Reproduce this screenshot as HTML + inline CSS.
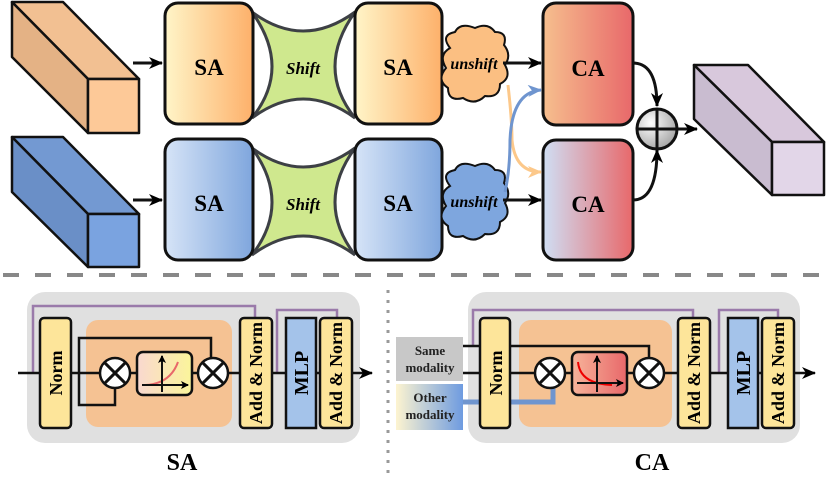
<!DOCTYPE html>
<html><head><meta charset="utf-8"><style>html,body{margin:0;padding:0;background:#fff}svg{display:block}text{font-family:"Liberation Serif",serif;font-weight:bold}</style></head><body>
<svg width="830" height="480" viewBox="0 0 830 480" xmlns="http://www.w3.org/2000/svg">
<defs>
<linearGradient id="go" x1="0" x2="1"><stop offset="0" stop-color="#fff5c8"/><stop offset="1" stop-color="#fdb06a"/></linearGradient>
<linearGradient id="gb" x1="0" x2="1"><stop offset="0" stop-color="#d6e4f7"/><stop offset="1" stop-color="#7fa6dd"/></linearGradient>
<linearGradient id="gca1" x1="0" x2="1"><stop offset="0" stop-color="#f6bf8e"/><stop offset="1" stop-color="#e8686a"/></linearGradient>
<linearGradient id="gca2" x1="0" x2="1"><stop offset="0" stop-color="#cfdff5"/><stop offset="1" stop-color="#e8686a"/></linearGradient>
<linearGradient id="gsa" x1="0" x2="1"><stop offset="0" stop-color="#f9d8d0"/><stop offset="1" stop-color="#fbf59a"/></linearGradient>
<linearGradient id="gcab" x1="0" x2="1"><stop offset="0" stop-color="#f7b49a"/><stop offset="1" stop-color="#e8686a"/></linearGradient>
<linearGradient id="gom" x1="0" x2="1"><stop offset="0" stop-color="#fdf4d0"/><stop offset="1" stop-color="#6e9be0"/></linearGradient>
<radialGradient id="gc" cx="0.35" cy="0.35" r="0.8"><stop offset="0" stop-color="#fff"/><stop offset="1" stop-color="#999"/></radialGradient>
<marker id="ah" markerWidth="8" markerHeight="8" refX="7" refY="4" orient="auto" markerUnits="userSpaceOnUse"><path d="M0,0 L8,4 L0,8 L2,4z" fill="#000"/></marker>
<marker id="ahb" markerWidth="14" markerHeight="12" refX="13" refY="6" orient="auto" markerUnits="userSpaceOnUse"><path d="M0,0 L14,6 L0,12 L4,6z" fill="#000"/></marker>
<marker id="aho" markerWidth="14" markerHeight="12" refX="13" refY="6" orient="auto" markerUnits="userSpaceOnUse"><path d="M0,0 L14,6 L0,12 L4,6z" fill="#fcc88a"/></marker>
<marker id="ahbl" markerWidth="14" markerHeight="12" refX="13" refY="6" orient="auto" markerUnits="userSpaceOnUse"><path d="M0,0 L14,6 L0,12 L4,6z" fill="#6f95cf"/></marker>
</defs>
<g stroke="#111" stroke-width="2.5" stroke-linejoin="round">
<polygon points="12,2 63,2 139,79 88,79" fill="#f2c092"/>
<polygon points="12,2 88,79 88,133 12,57" fill="#e4b285"/>
<rect x="88" y="79" width="51" height="54" fill="#fdc998"/>
<polygon points="12,137 63,137 139,214 88,214" fill="#7399d2"/>
<polygon points="12,137 88,214 88,267 12,192" fill="#6a8fc7"/>
<rect x="88" y="214" width="51" height="53" fill="#7aa3e0"/>
<polygon points="694,65 748,65 824,142 772,142" fill="#d8c8dc"/>
<polygon points="694,65 772,142 772,195 694,119" fill="#c9bcd0"/>
<rect x="772" y="142" width="52" height="53" fill="#e2d6e8"/>
</g>
<g fill="#cfe88e" stroke="#3d4045" stroke-width="3">
<path d="M252,12 Q303,50 355,12 Q315,68 355,118 Q303,80 252,118 Q292,68 252,12z"/>
<path d="M252,148 Q303,186 355,148 Q315,203 355,255 Q303,217 252,255 Q292,203 252,148z"/>
</g>
<g stroke="#111" stroke-width="3">
<rect x="165" y="3" width="88" height="121" rx="13" fill="url(#go)"/>
<rect x="355" y="3" width="87" height="121" rx="13" fill="url(#go)"/>
<rect x="165" y="139" width="88" height="121" rx="13" fill="url(#gb)"/>
<rect x="355" y="139" width="87" height="121" rx="13" fill="url(#gb)"/>
<rect x="543" y="3" width="90" height="122" rx="13" fill="url(#gca1)"/>
<rect x="543" y="140" width="90" height="120" rx="13" fill="url(#gca2)"/>
</g>
<g font-size="23" text-anchor="middle">
<text x="209" y="75">SA</text><text x="398" y="75">SA</text>
<text x="209" y="211">SA</text><text x="398" y="211">SA</text>
<text x="588" y="76">CA</text><text x="588" y="212">CA</text>
</g>
<g font-size="17" font-style="italic" text-anchor="middle">
<text x="303" y="74">Shift</text><text x="303" y="210">Shift</text>
</g>
<g stroke="#111" stroke-width="2">
<path d="M450,48 Q440,35 455,32 Q460,22 475,28 Q488,22 495,32 Q508,32 504,45 Q512,55 505,65 Q512,78 500,84 Q500,98 485,96 Q475,106 463,98 Q448,102 448,88 Q436,80 446,68 Q438,55 450,48z" fill="#fbbf82"/>
<path d="M450,186 Q440,173 455,170 Q460,160 475,166 Q488,160 495,170 Q508,170 504,183 Q512,193 505,203 Q512,216 500,222 Q500,236 485,234 Q475,244 463,236 Q448,240 448,226 Q436,218 446,206 Q438,193 450,186z" fill="#7ea6de"/>
</g>
<g font-size="16" font-style="italic" text-anchor="middle">
<text x="474" y="69">unshift</text><text x="474" y="207">unshift</text>
</g>
<g stroke="#111" stroke-width="3" fill="none">
<line x1="133" y1="63" x2="162" y2="63" marker-end="url(#ahb)"/>
<line x1="133" y1="200" x2="162" y2="200" marker-end="url(#ahb)"/>
<line x1="503" y1="63" x2="541" y2="63" marker-end="url(#ahb)"/>
<line x1="503" y1="200" x2="541" y2="200" marker-end="url(#ahb)"/>
<path d="M633,63 Q657,63 657,106" marker-end="url(#ahb)"/>
<path d="M633,200 Q657,200 657,150" marker-end="url(#ahb)"/>
<line x1="678" y1="129" x2="697" y2="129" marker-end="url(#ahb)"/>
</g>
<path d="M508,85 Q512,120 512,140 Q515,172 541,172" stroke="#fcc88a" stroke-width="3" fill="none" marker-end="url(#aho)"/>
<path d="M505,192 Q510,170 510,140 Q512,92 541,90" stroke="#6f95cf" stroke-width="3" fill="none" marker-end="url(#ahbl)"/>
<circle cx="657" cy="129" r="20" fill="url(#gc)" stroke="#111" stroke-width="3"/>
<path d="M637,129H677M657,109V149" stroke="#111" stroke-width="3"/>
<line x1="3" y1="275" x2="830" y2="275" stroke="#888" stroke-width="4" stroke-dasharray="16,16"/>
<line x1="388" y1="290" x2="388" y2="478" stroke="#999" stroke-width="3" stroke-dasharray="3,7"/>
<rect x="27" y="292" width="333" height="151" rx="18" fill="#e0e0e0"/>
<rect x="86" y="320" width="146" height="107" rx="12" fill="#f5c293"/>
<g fill="none" stroke="#9a7aaa" stroke-width="2.5">
<path d="M33,373V306H255V318"/><path d="M277,373V310H337V318"/>
</g>
<g fill="none" stroke="#111" stroke-width="2.5">
<line x1="18" y1="373" x2="372" y2="373" marker-end="url(#ahb)"/>
<path d="M79,373V338H211V358"/><path d="M79,373V405H115V388"/>
</g>
<g stroke="#111" stroke-width="2.5">
<rect x="40" y="318" width="31" height="110" rx="4" fill="#fde59a"/>
<rect x="240" y="318" width="32" height="110" rx="4" fill="#fde59a"/>
<rect x="286" y="318" width="30" height="110" fill="#a4c3ea"/>
<rect x="320" y="318" width="32" height="110" rx="4" fill="#fde59a"/>
<rect x="137" y="352" width="55" height="43" rx="6" fill="url(#gsa)"/>
<circle cx="115" cy="373" r="15" fill="#fff"/><circle cx="213" cy="373" r="15" fill="#fff"/>
<path d="M104.4,362.4l21.2,21.2M125.6,362.4l-21.2,21.2M202.4,362.4l21.2,21.2M223.6,362.4l-21.2,21.2" stroke-width="3"/>
</g>
<path d="M145,385Q170,384 178,362" stroke="#e8686a" stroke-width="2" fill="none"/>
<g stroke="#111" stroke-width="2" fill="none"><line x1="162" y1="392" x2="162" y2="356" marker-end="url(#ah)"/><line x1="142" y1="385" x2="188" y2="385" marker-end="url(#ah)"/></g>
<rect x="468" y="292" width="332" height="151" rx="18" fill="#e0e0e0"/>
<rect x="519" y="320" width="153" height="107" rx="12" fill="#f5c293"/>
<rect x="396" y="337" width="67" height="44" fill="#c8c8c8"/>
<rect x="396" y="384" width="67" height="46" fill="url(#gom)"/>
<g fill="none" stroke="#9a7aaa" stroke-width="2.5">
<path d="M473,346V310H693V318"/><path d="M719,373V310H778V318"/>
</g>
<path d="M463,402H553V388" stroke="#6f95cf" stroke-width="5" fill="none"/>
<g fill="none" stroke="#111" stroke-width="2.5">
<line x1="463" y1="373" x2="815" y2="373" marker-end="url(#ahb)"/>
<path d="M463,346H649V358"/>
</g>
<g stroke="#111" stroke-width="2.5">
<rect x="480" y="318" width="30" height="110" rx="4" fill="#fde59a"/>
<rect x="678" y="318" width="32" height="110" rx="4" fill="#fde59a"/>
<rect x="728" y="318" width="30" height="110" fill="#a4c3ea"/>
<rect x="762" y="318" width="32" height="110" rx="4" fill="#fde59a"/>
<rect x="572" y="352" width="55" height="43" rx="6" fill="url(#gcab)"/>
<circle cx="550" cy="373" r="15" fill="#fff"/><circle cx="649" cy="373" r="15" fill="#fff"/>
<path d="M539.4,362.4l21.2,21.2M560.6,362.4l-21.2,21.2M638.4,362.4l21.2,21.2M659.6,362.4l-21.2,21.2" stroke-width="3"/>
</g>
<path d="M578,362Q580,384 612,385" stroke="#e00" stroke-width="2" fill="none"/>
<g stroke="#111" stroke-width="2" fill="none"><line x1="597" y1="392" x2="597" y2="356" marker-end="url(#ah)"/><line x1="577" y1="383" x2="623" y2="383" marker-end="url(#ah)"/></g>
<g font-size="18">
<text transform="translate(62,373) rotate(-90)" text-anchor="middle">Norm</text>
<text transform="translate(262,373) rotate(-90)" text-anchor="middle">Add &amp; Norm</text>
<text transform="translate(308,373) rotate(-90)" text-anchor="middle" font-size="20">MLP</text>
<text transform="translate(342,373) rotate(-90)" text-anchor="middle">Add &amp; Norm</text>
<text transform="translate(502,373) rotate(-90)" text-anchor="middle">Norm</text>
<text transform="translate(700,373) rotate(-90)" text-anchor="middle">Add &amp; Norm</text>
<text transform="translate(750,373) rotate(-90)" text-anchor="middle" font-size="20">MLP</text>
<text transform="translate(784,373) rotate(-90)" text-anchor="middle">Add &amp; Norm</text>
</g>
<g font-size="13" text-anchor="middle" fill="#222">
<text x="430" y="355">Same</text><text x="430" y="372">modality</text>
<text x="430" y="402">Other</text><text x="430" y="419">modality</text>
</g>
<g font-size="24" text-anchor="middle"><text x="182" y="470">SA</text><text x="652" y="470">CA</text></g>
</svg>
</body></html>
